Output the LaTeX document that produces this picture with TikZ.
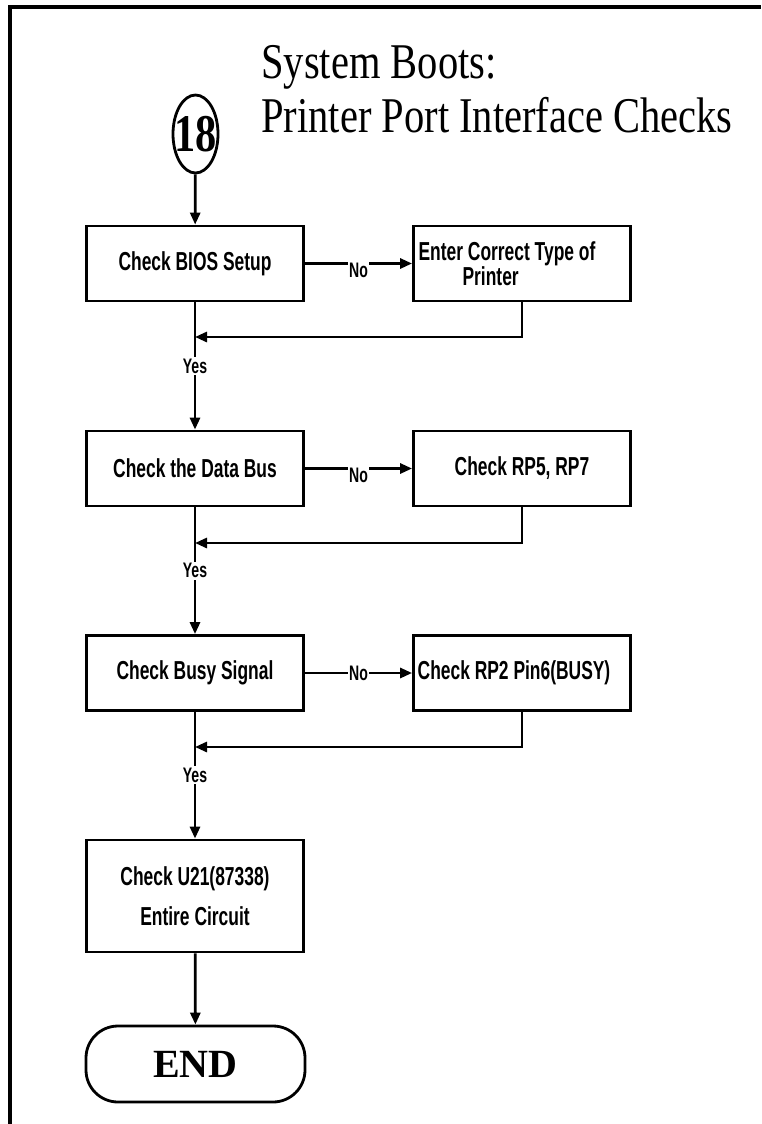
\documentclass[tikz,border=0pt]{standalone}
\usepackage{fontspec}
\setmainfont{Liberation Serif}
\newfontfamily\titlefont[FakeStretch=0.81]{Liberation Serif}
\newfontfamily\numfont[FakeStretch=0.8]{Liberation Serif}
\newfontfamily\boxfont[FakeStretch=0.67]{Liberation Sans}
\usetikzlibrary{arrows.meta, shapes.geometric, positioning}

\begin{document}
\begin{tikzpicture}[x=1pt, y=-1pt, line width=2.8pt,
    ar/.style={-{Triangle[length=12pt,width=10pt]}},
    chk/.style={draw, rectangle, minimum width=217pt, minimum height=75pt, inner sep=0pt,
      font=\boxfont\bfseries\fontsize{26}{21}\selectfont},
    lbl/.style={fill=white, inner sep=1.5pt, font=\boxfont\bfseries\fontsize{21}{21}\selectfont}]
    \useasboundingbox (0,0) rectangle (761,1124);
    \def\xL{195}  % main column
    \def\xR{522}  % side column

    % ---------- frame ----------
    \draw[line width=3.3pt] (10,1124) -- (10,7) -- (761,7);

    % ---------- title ----------
    \node[anchor=base west, inner sep=0pt, font=\titlefont\fontsize{50}{54}\selectfont]
      (ttl1) at (260,78) {System Boots:};
    \node[anchor=base west, inner sep=0pt, font=\titlefont\fontsize{50}{54}\selectfont]
      (ttl2) at (260,132) {Printer Port Interface Checks};

    % ---------- entry point ----------
    \node[draw, ellipse, minimum width=45pt, minimum height=78pt, inner sep=0pt,
      font=\numfont\bfseries\fontsize{53}{53}\selectfont] (start) at (195.5,134)
      {\makebox[0pt]{18}};

    % ---------- checks ----------
    \node[chk] (bios) at (\xL,263.5) {Check BIOS Setup};
    \node[chk, align=left] (type) at (\xR,263.5)
      {Enter Correct Type of\hspace*{30pt}\\\hspace*{44pt}Printer};
    \node[chk] (bus) at (\xL,468.5) {Check the Data Bus};
    \node[chk] (rp57) at (\xR,468.5) {Check RP5, RP7};
    \node[chk] (busy) at (\xL,673) {Check Busy Signal};
    \node[chk] (rp2) at (\xR,673) {Check RP2 Pin6(BUSY)\hspace*{16pt}};
    \node[chk, minimum height=112pt, align=center,
      font=\boxfont\bfseries\fontsize{26}{40}\selectfont] (u21) at (\xL,896)
      {Check U21(87338)\\Entire Circuit};
    \node[draw, rounded corners=32pt, minimum width=219pt, minimum height=76pt,
      font=\bfseries\fontsize{40}{40}\selectfont] (fin) at (195.5,1064) {END};

    % ---------- joins ----------
    \coordinate (j1) at (\xL,337);
    \coordinate (j2) at (\xL,543);
    \coordinate (j3) at (\xL,747);

    % ---------- connectors ----------
    \draw[ar] (start) -- (bios);
    \draw[ar] (bios) -- node[lbl, yshift=-7pt] {No} (type);
    \draw[ar] (type.south) |- (j1);
    \draw[ar] (bios) -- node[lbl] {Yes} (bus);

    \draw[ar] (bus) -- node[lbl, yshift=-7pt] {No} (rp57);
    \draw[ar] (rp57.south) |- (j2);
    \draw[ar] (bus) -- node[lbl] {Yes} (busy);

    \draw[ar] (busy) -- node[lbl] {No} (rp2);
    \draw[ar] (rp2.south) |- (j3);
    \draw[ar] (busy) -- node[lbl] {Yes} (u21);

    \draw[ar] (u21) -- (fin);
\end{tikzpicture}
\end{document}
